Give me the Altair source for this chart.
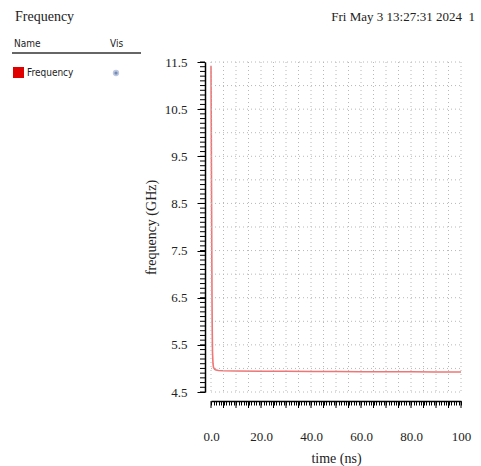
import altair as alt
import pandas as pd
import numpy as np

# ---- data ----
time_ns = [0.0, 0.1, 0.2, 0.3, 0.4, 0.5, 0.6, 0.8, 1.0, 1.5, 2.0, 3.0, 5.0, 10.0, 20.0, 30.0, 40.0, 50.0, 60.0, 70.0, 80.0, 90.0, 100.0]
freq_ghz = [11.42, 10.2, 8.9, 7.6, 6.5, 5.8, 5.35, 5.1, 5.02, 4.98, 4.965, 4.955, 4.95, 4.945, 4.94, 4.94, 4.935, 4.935, 4.93, 4.93, 4.93, 4.925, 4.925]

x_minor_values = [float(v) for v in np.round(np.arange(0, 100.01, 1.0), 2)]
x_major_values = [float(v) for v in np.round(np.arange(0, 100.01, 5.0), 2)]
y_major_values = [4.5, 5.5, 6.5, 7.5, 8.5, 9.5, 10.5, 11.5]
y_minor_values = [float(v) for v in np.round(np.arange(4.5, 11.501, 0.1), 2)]
y_grid_values = [float(v) for v in np.round(np.arange(4.5, 11.501, 0.5), 2)]

title_text = "Frequency"
date_text = "Fri May 3 13:27:31 2024\u00a0\u00a01"
legend_header_name = "Name"
legend_header_vis = "Vis"
legend_item = "Frequency"
x_title = "time (ns)"
y_title = "frequency (GHz)"

LINE_COLOR = "#f07575"
GRID_COLOR = "#b8b8b8"
SERIF = "Liberation Serif"
SANS = "DejaVu Sans Condensed"

df = pd.DataFrame({"t": time_ns, "f": freq_ghz})
xgrid_df = pd.DataFrame({"t": x_major_values})
ygrid_df = pd.DataFrame({"f": y_grid_values})
yminor_df = pd.DataFrame({"f": y_minor_values})
one = pd.DataFrame({"k": [0]})

xs = alt.Scale(domain=[0, 100], nice=False, zero=False)
ys = alt.Scale(domain=[4.5, 11.5], nice=False, zero=False)

x_axis = alt.Axis(
    values=x_minor_values,
    title=x_title,
    titleFont=SERIF, titleFontSize=14, titleFontWeight="normal", titleColor="#222",
    titlePadding=8,
    labelExpr="datum.value % 20 === 0 ? (datum.value === 100 ? '100' : format(datum.value, '.1f')) : ''",
    labelFont=SERIF, labelFontSize=13, labelColor="#222", labelPadding=25,
    labelOverlap=False, labelFlush=False,
    offset=9,
    domainColor="black", domainWidth=1.5,
    tickColor="black", tickWidth=1, tickSize=4,
    grid=False,
)

y_axis = alt.Axis(
    values=y_major_values,
    title=y_title,
    titleFont=SERIF, titleFontSize=14, titleFontWeight="normal", titleColor="#222",
    titlePadding=6,
    format=".1f",
    labelFont=SERIF, labelFontSize=13, labelColor="#222", labelPadding=10,
    offset=6,
    domainColor="black", domainWidth=1.5,
    tickColor="black", tickWidth=1, tickSize=8,
    grid=False,
)

X = alt.X("t:Q", scale=xs, axis=x_axis)
Y = alt.Y("f:Q", scale=ys, axis=y_axis)

line = alt.Chart(df).mark_line(color=LINE_COLOR, strokeWidth=1.6).encode(x=X, y=Y)

# dotted grid
x_grid = alt.Chart(xgrid_df).mark_rule(color=GRID_COLOR, strokeDash=[1, 3], strokeWidth=1).encode(
    x=X, y=alt.value(0), y2=alt.value(330)
)
y_grid = alt.Chart(ygrid_df).mark_rule(color=GRID_COLOR, strokeDash=[1, 3], strokeWidth=1).encode(
    y=Y, x=alt.value(0), x2=alt.value(250)
)
# longer ticks every 5 ns, short minor ticks every 0.1 GHz
x_major_ticks = alt.Chart(xgrid_df).mark_rule(color="black", strokeWidth=1).encode(
    x=X, y=alt.value(339), y2=alt.value(346)
)
y_minor_ticks = alt.Chart(yminor_df).mark_rule(color="black", strokeWidth=1).encode(
    y=Y, x=alt.value(-11), x2=alt.value(-6)
)

def txt(s, x, y, font, size, align="left", color="#222"):
    return alt.Chart(one).mark_text(
        font=font, fontSize=size, align=align, baseline="middle", color=color
    ).encode(x=alt.value(x), y=alt.value(y), text=alt.value(s))

title_t = txt(title_text, -196, -45, SERIF, 14)
date_t = txt(date_text, 264, -45, SERIF, 13, align="right")
name_t = txt(legend_header_name, -197, -18, SANS, 10)
vis_t = txt(legend_header_vis, -101, -18, SANS, 10)
item_t = txt(legend_item, -184, 11, SANS, 10)

header_rule = alt.Chart(one).mark_rule(color="#666", strokeWidth=2).encode(
    x=alt.value(-199), x2=alt.value(-70), y=alt.value(-9)
)
swatch = alt.Chart(one).mark_rect(color="#e00000").encode(
    x=alt.value(-198), x2=alt.value(-187), y=alt.value(5), y2=alt.value(16)
)
eye_outer = alt.Chart(one).mark_point(filled=True, color="#9fb0d4", size=40, shape="circle").encode(
    x=alt.value(-95), y=alt.value(11)
)
eye_inner = alt.Chart(one).mark_point(filled=True, color="#5a6f9e", size=10, shape="circle").encode(
    x=alt.value(-95), y=alt.value(11)
)

chart = alt.layer(
    line, x_grid, y_grid, x_major_ticks, y_minor_ticks,
    title_t, date_t, name_t, vis_t, item_t, header_rule, swatch, eye_outer, eye_inner
).properties(
    width=250, height=330,
    autosize=alt.AutoSizeParams(type="none"),
    padding={"left": 211, "top": 62, "right": 20, "bottom": 74},
    background="white",
).configure_view(strokeWidth=0)

chart.save("out.html", embed_options={"renderer": "svg", "actions": False})
